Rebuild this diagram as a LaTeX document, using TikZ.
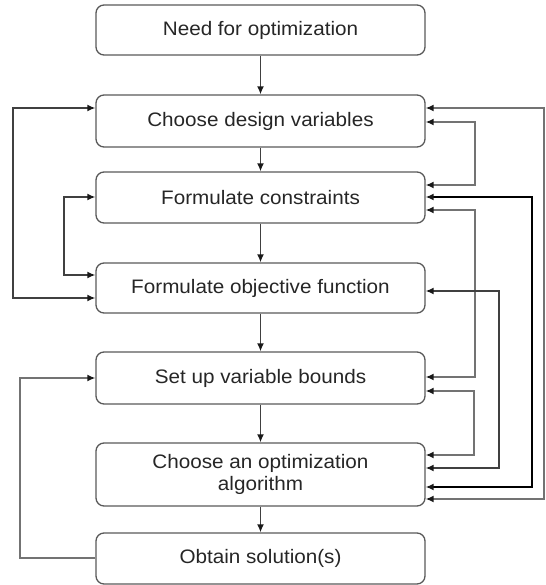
\documentclass[tikz,border=0pt]{standalone}
\usepackage{fontspec}
\setmainfont{Liberation Sans}[FakeStretch=1.06]
\usetikzlibrary{arrows.meta}
\definecolor{boxc}{gray}{0.35}
\definecolor{lineg}{gray}{0.45}
\definecolor{lined}{gray}{0.25}
\tikzset{
  tip/.tip={Latex[length=8pt,width=7pt,color=black!90]},
  box/.style={draw=boxc, line width=1.3pt, rounded corners=8pt, minimum width=329pt, inner sep=0pt, align=center, font=\fontsize{19.5}{23}\selectfont, text=black!85},
  conn/.style={line width=1.5pt, -tip},
  both/.style={line width=1.5pt, tip-tip},
}
\begin{document}
\begin{tikzpicture}[x=1pt,y=-1pt]
\useasboundingbox (0,0) rectangle (545,585);
\node[box, minimum height=50pt] (b1) at (260.5,30) {Need for optimization};
\node[box, minimum height=52pt] (b2) at (260.5,121) {Choose design variables};
\node[box, minimum height=51pt] (b3) at (260.5,197.5) {Formulate constraints};
\node[box, minimum height=50pt] (b4) at (260.5,288) {Formulate objective function};
\node[box, minimum height=52pt] (b5) at (260.5,378) {Set up variable bounds};
\node[box, minimum height=63pt] (b6) at (260.5,474.5) {Choose an optimization\\[-1pt]algorithm};
\node[box, minimum height=51pt] (b7) at (260.5,558.5) {Obtain solution(s)};
% main flow
\draw[conn, lined] (b1) -- (b2);
\draw[conn, lined] (b2) -- (b3);
\draw[conn, lined] (b3) -- (b4);
\draw[conn, lined] (b4) -- (b5);
\draw[conn, lined] (b5) -- (b6);
\draw[conn, lined] (b6) -- (b7);
% right side bend points
\coordinate (ra1) at (544,108); \coordinate (ra2) at (544,499);
\coordinate (rb1) at (475,122); \coordinate (rb2) at (475,185);
\coordinate (rc1) at (532,197); \coordinate (rc2) at (532,487);
\coordinate (rd1) at (475,210); \coordinate (rd2) at (475,377);
\coordinate (re1) at (499,291); \coordinate (re2) at (499,468);
\coordinate (rf1) at (474,391); \coordinate (rf2) at (474,455);
\draw[both, lineg] (b2.east |- ra1) -- (ra1) -- (ra2) -- (b6.east |- ra2);
\draw[both, lineg] (b2.east |- rb1) -- (rb1) -- (rb2) -- (b3.east |- rb2);
\draw[both, black] (b3.east |- rc1) -- (rc1) -- (rc2) -- (b6.east |- rc2);
\draw[both, lineg] (b3.east |- rd1) -- (rd1) -- (rd2) -- (b5.east |- rd2);
\draw[both, lined] (b4.east |- re1) -- (re1) -- (re2) -- (b6.east |- re2);
\draw[both, lineg] (b5.east |- rf1) -- (rf1) -- (rf2) -- (b6.east |- rf2);
% left side
\coordinate (lg1) at (13,108); \coordinate (lg2) at (13,298);
\coordinate (lh1) at (64,197); \coordinate (lh2) at (64,275);
\coordinate (li1) at (20,558); \coordinate (li2) at (20,378);
\draw[both, lined] (b2.west |- lg1) -- (lg1) -- (lg2) -- (b4.west |- lg2);
\draw[both, lined] (b3.west |- lh1) -- (lh1) -- (lh2) -- (b4.west |- lh2);
\draw[conn, lineg] (b7.west |- li1) -- (li1) -- (li2) -- (b5.west |- li2);
\end{tikzpicture}
\end{document}
